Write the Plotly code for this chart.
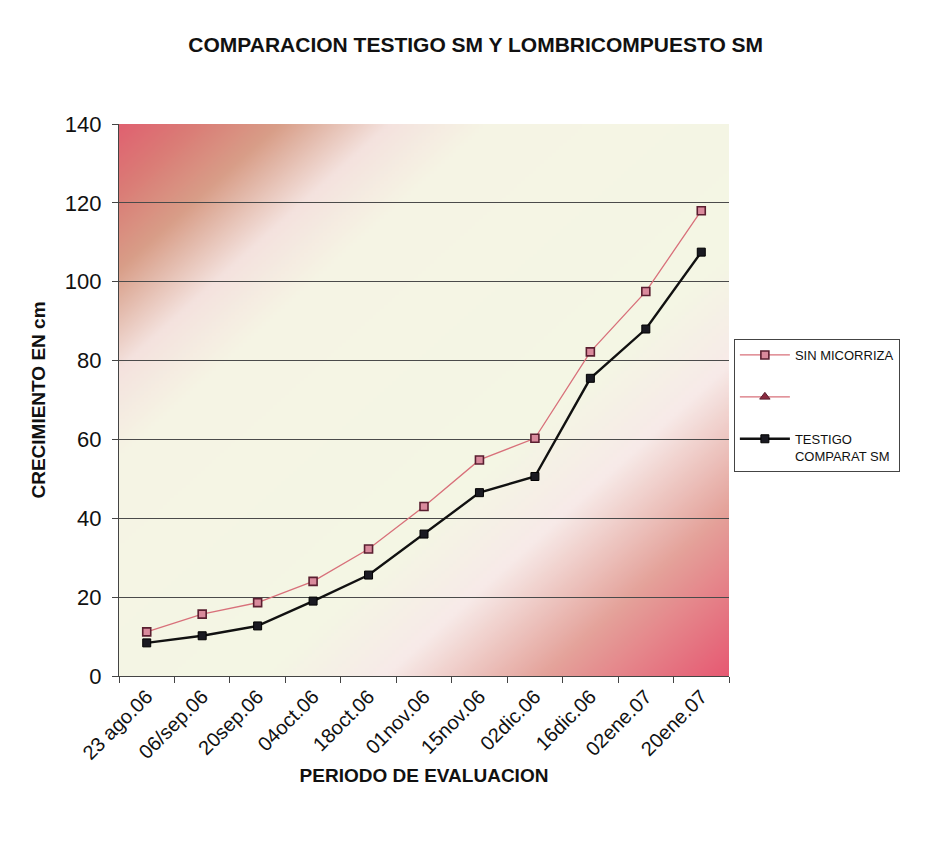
import zlib, struct, base64
import plotly.graph_objects as go

# ---------------- data ----------------
categories = ["23 ago.06", "06/sep.06", "20sep.06", "04oct.06", "18oct.06", "01nov.06",
              "15nov.06", "02dic.06", "16dic.06", "02ene.07", "20ene.07"]
sin_micorriza = [11.2, 15.7, 18.6, 24.0, 32.2, 43.0, 54.8, 60.3, 82.2, 97.5, 118.0]
testigo_comparat_sm = [8.4, 10.2, 12.7, 19.0, 25.6, 36.0, 46.5, 50.6, 75.5, 88.0, 107.5]
y_ticks = [0, 20, 40, 60, 80, 100, 120, 140]

# ---------------- gradient background (decoration) ----------------
stops = [(0.00, (224, 98, 112)), (0.06, (218, 124, 118)), (0.13, (216, 158, 136)),
         (0.22, (244, 226, 222)), (0.30, (245, 244, 228)), (0.62, (244, 246, 228)),
         (0.72, (247, 234, 232)), (0.85, (228, 162, 154)), (1.00, (230, 90, 115))]

def col(t):
    for (t0, c0), (t1, c1) in zip(stops[:-1], stops[1:]):
        if t <= t1:
            f = (t - t0) / (t1 - t0)
            return tuple(int(round(a + (b - a) * f)) for a, b in zip(c0, c1))
    return stops[-1][1]

W, H = 160, 160
rows = []
for j in range(H):
    row = bytearray()
    for i in range(W):
        t = (i / (W - 1) + j / (H - 1)) / 2
        row.extend(col(t))
    rows.append(row)

def make_png(w, h, rows):
    raw = b"".join(b"\x00" + bytes(r) for r in rows)
    def chunk(tag, data):
        return struct.pack(">I", len(data)) + tag + data + struct.pack(">I", zlib.crc32(tag + data) & 0xffffffff)
    return (b"\x89PNG\r\n\x1a\n" + chunk(b"IHDR", struct.pack(">IIBBBBB", w, h, 8, 2, 0, 0, 0))
            + chunk(b"IDAT", zlib.compress(raw, 9)) + chunk(b"IEND", b""))

bg_uri = "data:image/png;base64," + base64.b64encode(make_png(W, H, rows)).decode()

# ---------------- figure ----------------
FONT = "Liberation Sans, Arial, sans-serif"
fig = go.Figure()

fig.add_trace(go.Scatter(
    x=categories, y=sin_micorriza, name="SIN MICORRIZA", mode="lines+markers",
    line=dict(color="#d8707a", width=1.3),
    marker=dict(symbol="square", size=8, color="#d98a9c", line=dict(color="#5a1f30", width=1.6)),
    legendgroup="a"))
fig.add_trace(go.Scatter(
    x=[categories[0]], y=[None], name=" ", mode="lines+markers",
    line=dict(color="#d8707a", width=1.3),
    marker=dict(symbol="triangle-up", size=9, color="#8a2a40", line=dict(color="#5a1f30", width=1)),
    legendgroup="b"))
fig.add_trace(go.Scatter(
    x=categories, y=testigo_comparat_sm, name="TESTIGO<br>COMPARAT SM", mode="lines+markers",
    line=dict(color="#111111", width=2.4),
    marker=dict(symbol="square", size=8, color="#1a1a22", line=dict(color="#000000", width=1)),
    legendgroup="c"))

fig.update_layout(
    width=928, height=856,
    margin=dict(l=111, r=207, t=116, b=188),
    paper_bgcolor="white", plot_bgcolor="rgba(0,0,0,0)",
    font=dict(family=FONT, color="#111111"),
    title=dict(text="<b>COMPARACION TESTIGO SM Y LOMBRICOMPUESTO SM</b>",
               x=0.504, xanchor="center", y=0.957, yanchor="middle",
               font=dict(size=21, family=FONT, color="#111111")),
    images=[dict(source=bg_uri, xref="paper", yref="paper", x=0, y=1, sizex=1, sizey=1,
                 xanchor="left", yanchor="top", sizing="stretch", layer="below")],
    legend=dict(x=1.008, xanchor="left", y=0.49, yanchor="middle",
                bgcolor="white", bordercolor="#444444", borderwidth=1,
                font=dict(size=13, family=FONT, color="#111111"),
                tracegroupgap=22, valign="top", itemwidth=50),
    showlegend=True,
)

fig.update_xaxes(
    type="category", range=[-0.5, len(categories) - 0.5],
    tickangle=-45, tickson="boundaries", ticks="outside", ticklen=6, tickcolor="#444444",
    showline=True, linecolor="#444444", linewidth=1.2, showgrid=False,
    tickfont=dict(size=20, family=FONT, color="#111111"),
    title=dict(text="<b>PERIODO DE EVALUACION</b>", font=dict(size=19, family=FONT, color="#111111"),
               standoff=5),
)
fig.update_yaxes(
    range=[0, 140], tickvals=y_ticks, ticks="outside", ticklen=6, tickcolor="#444444",
    showline=True, linecolor="#444444", linewidth=1.2,
    showgrid=True, gridcolor="#4a4a4a", gridwidth=1, zeroline=False,
    tickfont=dict(size=22, family=FONT, color="#111111"), ticklabelstandoff=6,
    title=dict(text="<b>CRECIMIENTO EN cm</b>", font=dict(size=19, family=FONT, color="#111111"),
               standoff=14),
)

fig.write_html("out.html")
